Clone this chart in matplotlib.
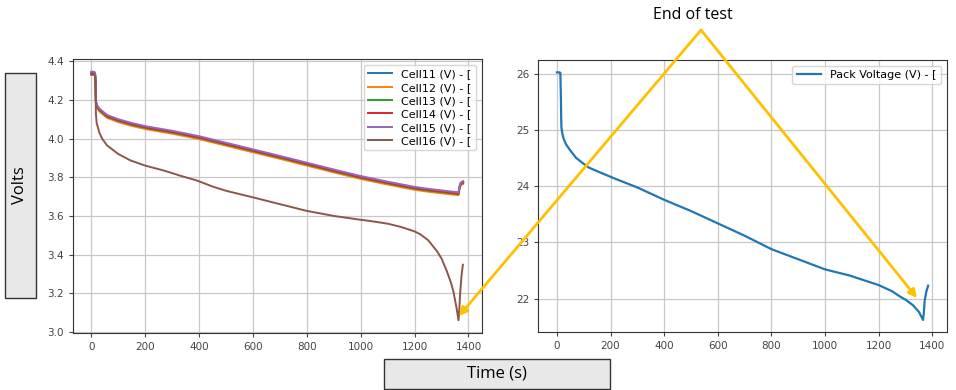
import matplotlib.pyplot as plt
from matplotlib.patches import Rectangle, FancyArrowPatch

# time axis for cells 11-15 (s)
t_cell = [0, 10, 14, 16, 17, 20, 30, 58, 100, 150, 207, 300, 400, 500, 600, 700, 800,
          900, 1000, 1100, 1200, 1250, 1300, 1330, 1350, 1363, 1366, 1370, 1375, 1380]

cell11 = [4.341, 4.341, 4.336, 4.296, 4.196, 4.171, 4.151, 4.118, 4.096, 4.076, 4.058,
          4.036, 4.008, 3.974, 3.94, 3.906, 3.871, 3.836, 3.802, 3.773, 3.746, 3.736,
          3.728, 3.723, 3.72, 3.718, 3.746, 3.766, 3.772, 3.776]
cell12 = [4.33, 4.33, 4.325, 4.285, 4.185, 4.16, 4.14, 4.107, 4.085, 4.065, 4.047,
          4.025, 3.997, 3.963, 3.929, 3.895, 3.86, 3.825, 3.791, 3.762, 3.735, 3.725,
          3.717, 3.712, 3.709, 3.707, 3.735, 3.755, 3.761, 3.765]
cell13 = [4.336, 4.336, 4.331, 4.291, 4.191, 4.166, 4.146, 4.113, 4.091, 4.071, 4.053,
          4.031, 4.003, 3.969, 3.935, 3.901, 3.866, 3.831, 3.797, 3.768, 3.741, 3.731,
          3.723, 3.718, 3.715, 3.713, 3.741, 3.761, 3.767, 3.771]
cell14 = [4.339, 4.339, 4.334, 4.294, 4.194, 4.169, 4.149, 4.116, 4.094, 4.074, 4.056,
          4.034, 4.006, 3.972, 3.938, 3.904, 3.869, 3.834, 3.80, 3.771, 3.744, 3.734,
          3.726, 3.721, 3.718, 3.716, 3.744, 3.764, 3.77, 3.774]
cell15 = [4.345, 4.345, 4.34, 4.30, 4.20, 4.175, 4.155, 4.122, 4.10, 4.08, 4.062,
          4.04, 4.012, 3.978, 3.944, 3.91, 3.875, 3.84, 3.806, 3.777, 3.75, 3.74,
          3.732, 3.727, 3.724, 3.722, 3.75, 3.77, 3.776, 3.78]

# cell 16 has its own sampling (sharper knee at the end)
t_cell16 = [0, 10, 14, 16, 17, 20, 30, 40, 58, 100, 145, 200, 268, 330, 392, 450, 500,
            600, 700, 800, 900, 1000, 1035, 1100, 1150, 1200, 1221, 1250, 1283, 1300,
            1320, 1335, 1344, 1355, 1363, 1366, 1369, 1374, 1379]
cell16 = [4.33, 4.33, 4.325, 4.25, 4.13, 4.08, 4.03, 4.0, 3.965, 3.92, 3.887, 3.86,
          3.835, 3.808, 3.783, 3.752, 3.73, 3.696, 3.661, 3.626, 3.60, 3.58, 3.574,
          3.56, 3.543, 3.52, 3.505, 3.475, 3.418, 3.38, 3.313, 3.255, 3.209, 3.13,
          3.061, 3.12, 3.20, 3.29, 3.348]

cell_labels = ["Cell11 (V) - [", "Cell12 (V) - [", "Cell13 (V) - [",
               "Cell14 (V) - [", "Cell15 (V) - [", "Cell16 (V) - ["]

# pack voltage trace
t_pack = [0, 10, 13, 15, 16, 17, 20, 25, 34, 50, 71, 100, 121, 150, 220, 300, 400, 500,
          600, 700, 800, 900, 1000, 1092, 1200, 1250, 1278, 1300, 1328, 1350, 1365,
          1368, 1371, 1377, 1384]
pack = [26.03, 26.03, 26.02, 25.6, 25.25, 25.05, 24.95, 24.85, 24.75, 24.64, 24.51,
        24.4, 24.33, 24.27, 24.13, 23.98, 23.76, 23.56, 23.34, 23.12, 22.88, 22.70,
        22.52, 22.41, 22.24, 22.13, 22.04, 21.98, 21.88, 21.76, 21.62, 21.75, 21.96,
        22.12, 22.23]

W, H = 956, 390
ORANGE = "#FFC000"


def fx(px):
    return px / W


def fy(py):
    return 1 - py / H


fig = plt.figure(figsize=(W / 100, H / 100), dpi=100)
ax1 = fig.add_axes([fx(72.7), fy(332.7), (481.7 - 72.7) / W, (332.7 - 59.3) / H])
ax2 = fig.add_axes([fx(538.3), fy(332.3), (946.7 - 538.3) / W, (332.3 - 60) / H])

for vals, lab in zip([cell11, cell12, cell13, cell14, cell15], cell_labels[:5]):
    ax1.plot(t_cell, vals, lw=1.4, label=lab)
ax1.plot(t_cell16, cell16, lw=1.4, label=cell_labels[5])
ax1.set_yticks([3.0, 3.2, 3.4, 3.6, 3.8, 4.0, 4.2, 4.4])
ax1.legend(loc="upper right", fontsize=8, handlelength=2.2, labelspacing=0.3)

ax2.plot(t_pack, pack, lw=1.6, label="Pack Voltage (V) - [")
ax2.set_yticks([22, 23, 24, 25, 26])
ax2.legend(loc="upper right", fontsize=8, handlelength=2.2)

for ax in (ax1, ax2):
    ax.set_xticks(range(0, 1401, 200))
    ax.grid(True, color="#c8c8c8", lw=0.9)
    ax.tick_params(labelsize=7.5, labelcolor="#444444", color="#444444", length=3)
    for sp in ax.spines.values():
        sp.set_color("#333333")

# label boxes
fig.add_artist(Rectangle((fx(5), fy(298)), 31 / W, 225 / H, transform=fig.transFigure,
                         facecolor="#e8e8e8", edgecolor="#333333", lw=1))
fig.text(fx(20.5), fy(185), "Volts", rotation=90, ha="center", va="center",
         fontsize=12, family="Open Sans")
fig.add_artist(Rectangle((fx(384), fy(389)), 226 / W, 30 / H, transform=fig.transFigure,
                         facecolor="#e8e8e8", edgecolor="#333333", lw=1))
fig.text(fx(497), fy(374), "Time (s)", ha="center", va="center",
         fontsize=12, family="Open Sans")

# end of test annotation
fig.text(fx(693), fy(15), "End of test", ha="center", va="center",
         fontsize=11.5, family="Open Sans")
apex = (fx(701), fy(30))
for target in [(fx(459), fy(316)), (fx(917), fy(298))]:
    fig.add_artist(FancyArrowPatch(apex, target, transform=fig.transFigure,
                                   arrowstyle="-|>", mutation_scale=12,
                                   color=ORANGE, lw=2, shrinkA=0, shrinkB=0))

fig.savefig("out.png", dpi=100)
